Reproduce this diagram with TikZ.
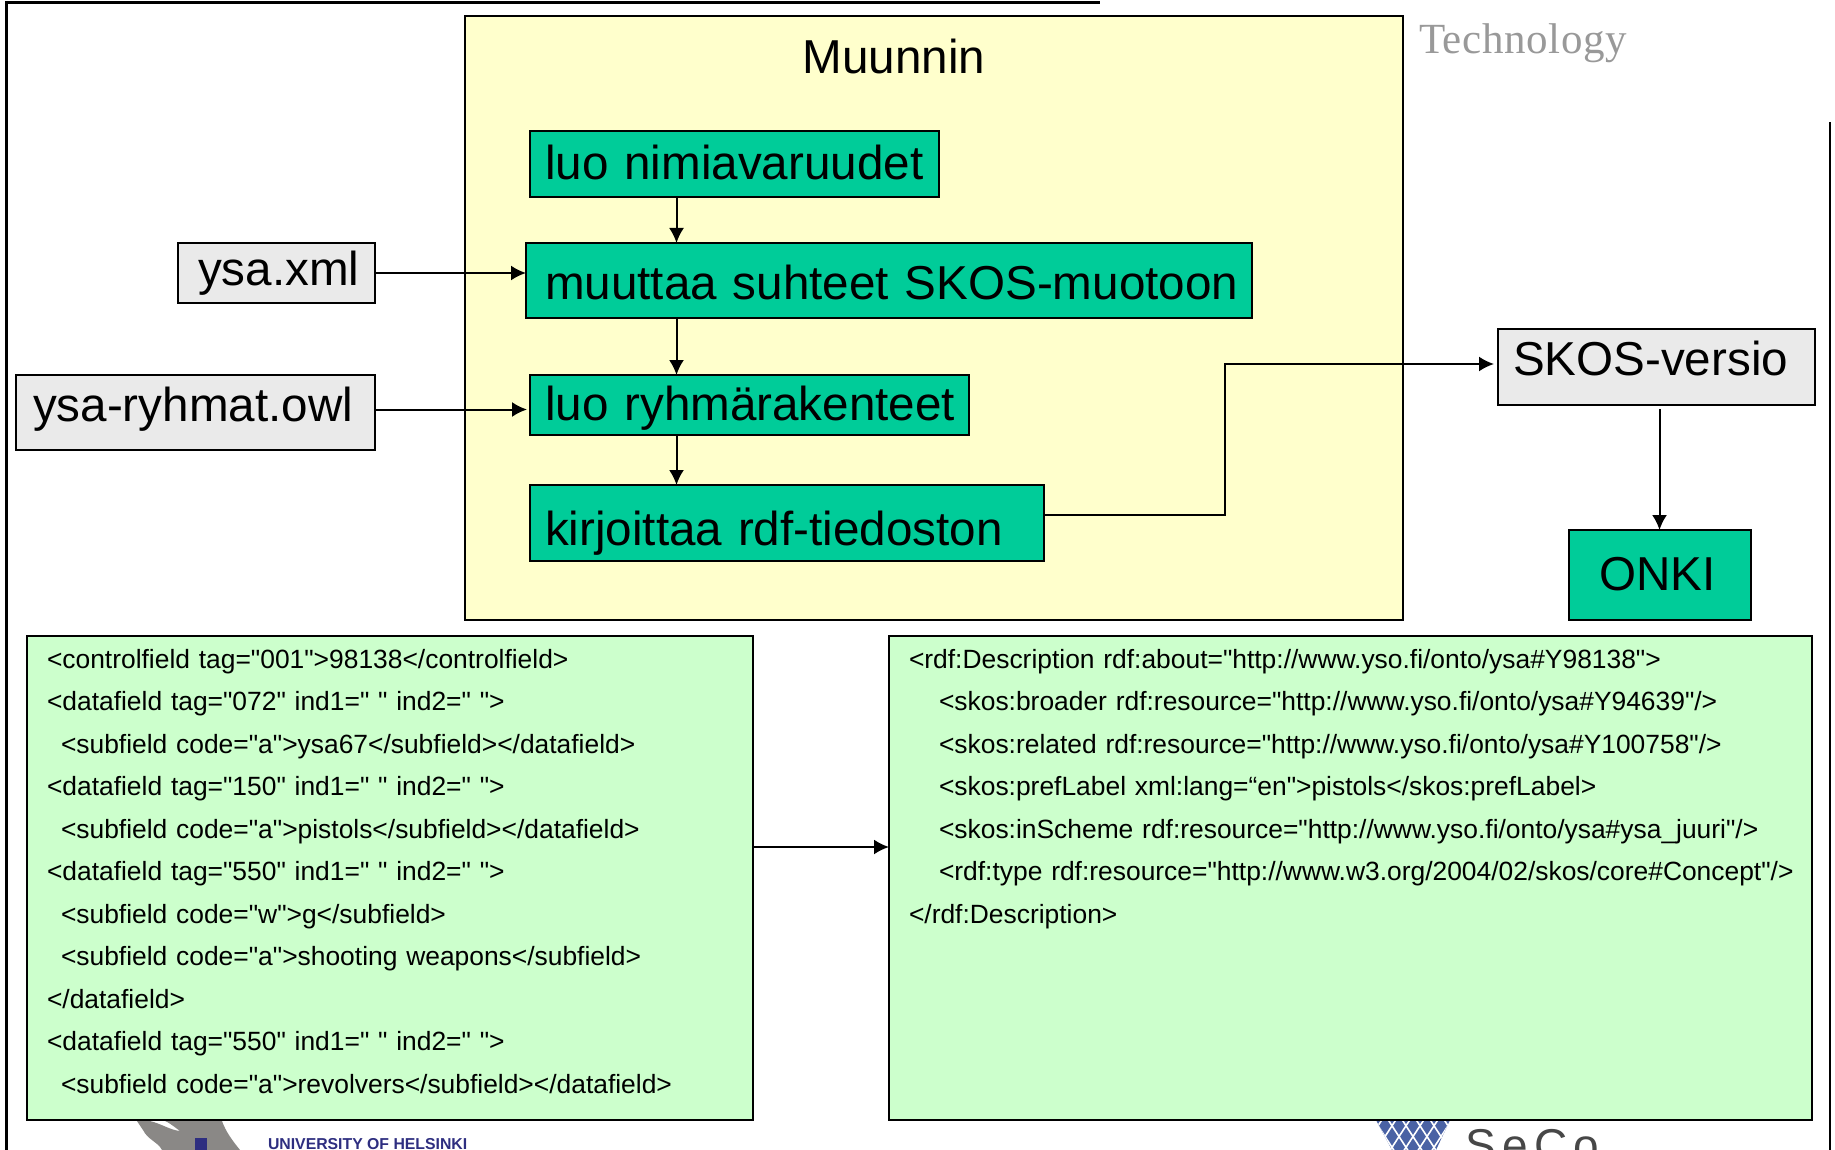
\documentclass[tikz,border=0pt]{standalone}
\usepackage{fontspec}
\setmainfont{Liberation Sans}[Ligatures=TeXOff]
\newfontfamily\techfont{Liberation Serif}[LetterSpace=1.5]
\newfontfamily\secofont{Liberation Sans}[LetterSpace=14]
\usetikzlibrary{arrows.meta}
\definecolor{yel}{HTML}{FFFFCC}
\definecolor{teal2}{HTML}{00CC99}
\definecolor{grey2}{HTML}{EAEAEA}
\definecolor{lgreen}{HTML}{CCFFCC}
\definecolor{navy2}{HTML}{2E2E80}
\definecolor{netblue}{HTML}{4A62A4}
\definecolor{mapgrey}{HTML}{8A8886}
\newcommand{\bigtxt}[3]{\hspace*{#1pt}\raisebox{#2pt}{#3}}
\tikzset{
 x=1pt,y=-1pt,outer sep=0pt,
 boxbase/.style={draw=black,line width=1.8pt,anchor=north west,inner ysep=0pt,align=left,font=\fontsize{47.6}{47.6}\selectfont,text height=34pt,text depth=10pt},
 proc/.style={boxbase,fill=teal2},
 src/.style={boxbase,fill=grey2},
 code/.style={draw=black,line width=2pt,fill=lgreen,anchor=north west,inner sep=0pt,align=left,font=\fontsize{26.4}{42.5}\selectfont},
 arr/.style={line width=2pt,-{Latex[length=15pt,width=15pt]}},
 frameline/.style={line width=2.8pt,black}
}
\begin{document}
\begin{tikzpicture}
\clip (0,0) rectangle (1835,1150);
\fill[white] (0,0) rectangle (1835,1150);
% frame
\draw[frameline] (5.5,2.5) -- (1100,2.5);
\draw[frameline] (6.5,1) -- (6.5,1150);
\draw[frameline] (1830,122) -- (1830,1150);
% logos
\node[anchor=base west,inner sep=0pt,text=black!40,font=\techfont\fontsize{43}{43}\selectfont] (tech) at (1419,54) {Technology};
\fill[mapgrey] (137,1121) -- (150,1121) .. controls (162,1124) and (170,1130) .. (180,1131) .. controls (172,1125) and (168,1122) .. (165,1121) -- (222,1121) .. controls (226,1132) and (232,1140) .. (240,1150) -- (162,1150) .. controls (158,1142) and (148,1140) .. (143,1130) -- cycle;
\fill[navy2] (195,1138) rectangle (207,1150);
\node[anchor=base west,inner sep=0pt,text=navy2,font=\bfseries\fontsize{15.8}{15.8}\selectfont] (uni) at (268,1149) {UNIVERSITY OF HELSINKI};
\begin{scope}
\clip (1376,1120) -- (1450,1120) -- (1436,1150) -- (1392,1150) -- cycle;
\fill[netblue] (1370,1115) rectangle (1455,1150);
\foreach \d in {-84,-70,...,84} {
  \draw[white,line width=1.6pt] (1413+\d,1115) -- (1413+\d+26,1155);
  \draw[white,line width=1.6pt] (1413+\d,1115) -- (1413+\d-26,1155);
}
\end{scope}
\node[anchor=base west,inner sep=0pt,text=black!72,font=\secofont\fontsize{46}{46}\selectfont] (seco) at (1465,1161) {SeCo};
% yellow panel
\node[draw=black,line width=2pt,fill=yel,anchor=north west,minimum width=938pt,minimum height=604pt,inner sep=0pt] (panel) at (465,16) {};
\node[font=\fontsize{47.6}{47.6}\selectfont,inner sep=0pt,anchor=base] (title) at (894,74) {Muunnin};
% process boxes
\node[proc,minimum width=409pt,minimum height=66pt,text width=393pt,inner xsep=8pt] (nimi) at (530,131) {\bigtxt{7}{-3.5}{luo nimiavaruudet}};
\node[proc,minimum width=726pt,minimum height=75pt,text width=710pt,inner xsep=8pt] (muut) at (526,243) {\bigtxt{11}{-7}{muuttaa suhteet SKOS-muotoon}};
\node[proc,minimum width=439pt,minimum height=60pt,text width=423pt,inner xsep=8pt] (ryhm) at (530,375) {\bigtxt{7}{-3.5}{luo ryhmärakenteet}};
\node[proc,minimum width=514pt,minimum height=76pt,text width=498pt,inner xsep=8pt] (kirj) at (530,485) {\bigtxt{7}{-10}{kirjoittaa rdf-tiedoston}};
% sources
\node[src,minimum width=197pt,minimum height=60pt,text width=181pt,inner xsep=8pt] (ysa) at (178,243) {\bigtxt{12}{0}{ysa.xml}};
\node[src,minimum width=359pt,minimum height=75pt,text width=343pt,inner xsep=8pt] (owl) at (16,375) {\bigtxt{9}{3.5}{ysa-ryhmat.owl}};
\node[src,minimum width=317pt,minimum height=76pt,text width=301pt,inner xsep=8pt] (skos) at (1498,329) {\bigtxt{7}{3.5}{SKOS-versio}};
\node[proc,minimum width=182pt,minimum height=90pt,text width=166pt,inner xsep=8pt] (onki) at (1569,530) {\bigtxt{22}{-3.5}{ONKI}};
% code boxes
\node[code,minimum width=726pt,minimum height=484pt,text width=686pt,inner xsep=20pt] (marc) at (27,636) {%
<controlfield tag="001">98138</controlfield>\\
<datafield tag="072" ind1=" " ind2=" ">\\
\hspace*{14pt}<subfield code="a">ysa67</subfield></datafield>\\
<datafield tag="150" ind1=" " ind2=" ">\\
\hspace*{14pt}<subfield code="a">pistols</subfield></datafield>\\
<datafield tag="550" ind1=" " ind2=" ">\\
\hspace*{14pt}<subfield code="w">g</subfield>\\
\hspace*{14pt}<subfield code="a">shooting weapons</subfield>\\
</datafield>\\
<datafield tag="550" ind1=" " ind2=" ">\\
\hspace*{14pt}<subfield code="a">revolvers</subfield></datafield>\rule[-14pt]{0pt}{14pt}};
\node[code,minimum width=923pt,minimum height=484pt,text width=883pt,inner xsep=20pt] (rdf) at (889,636) {%
<rdf:Description rdf:about="http://www.yso.fi/onto/ysa\#Y98138">\\
\hspace*{30pt}<skos:broader rdf:resource="http://www.yso.fi/onto/ysa\#Y94639"/>\\
\hspace*{30pt}<skos:related rdf:resource="http://www.yso.fi/onto/ysa\#Y100758"/>\\
\hspace*{30pt}<skos:prefLabel xml:lang=“en">pistols</skos:prefLabel>\\
\hspace*{30pt}<skos:inScheme rdf:resource="http://www.yso.fi/onto/ysa\#ysa\_juuri"/>\\
\hspace*{30pt}<rdf:type rdf:resource="http://www.w3.org/2004/02/skos/core\#Concept"/>\\
</rdf:Description>\\ \mbox{}\\ \mbox{}\\ \mbox{}\\ \mbox{}\rule[-14pt]{0pt}{14pt}};
% connectors
\coordinate (xa) at (676.5,0);
\coordinate (bend) at (1225,364);
\coordinate (xs) at (1659.5,0);
\coordinate (my) at (0,847);
\draw[arr] (nimi.south -| xa) -- (muut.north -| xa);
\draw[arr] (muut.south -| xa) -- (ryhm.north -| xa);
\draw[arr] (ryhm.south -| xa) -- (kirj.north -| xa);
\draw[arr] (ysa.east) -- (muut.west |- ysa.east);
\draw[arr] ([yshift=3pt]owl.east) -- ([xshift=-3pt,yshift=3pt]ryhm.west |- owl.east);
\draw[arr] ([yshift=8pt]kirj.east) -| (bend) -- ([xshift=-4pt]skos.west |- bend);
\draw[arr] ([yshift=-4pt]skos.south -| xs) -- (onki.north -| xs);
\draw[arr] (marc.east |- my) -- (rdf.west |- my);
\end{tikzpicture}
\end{document}
